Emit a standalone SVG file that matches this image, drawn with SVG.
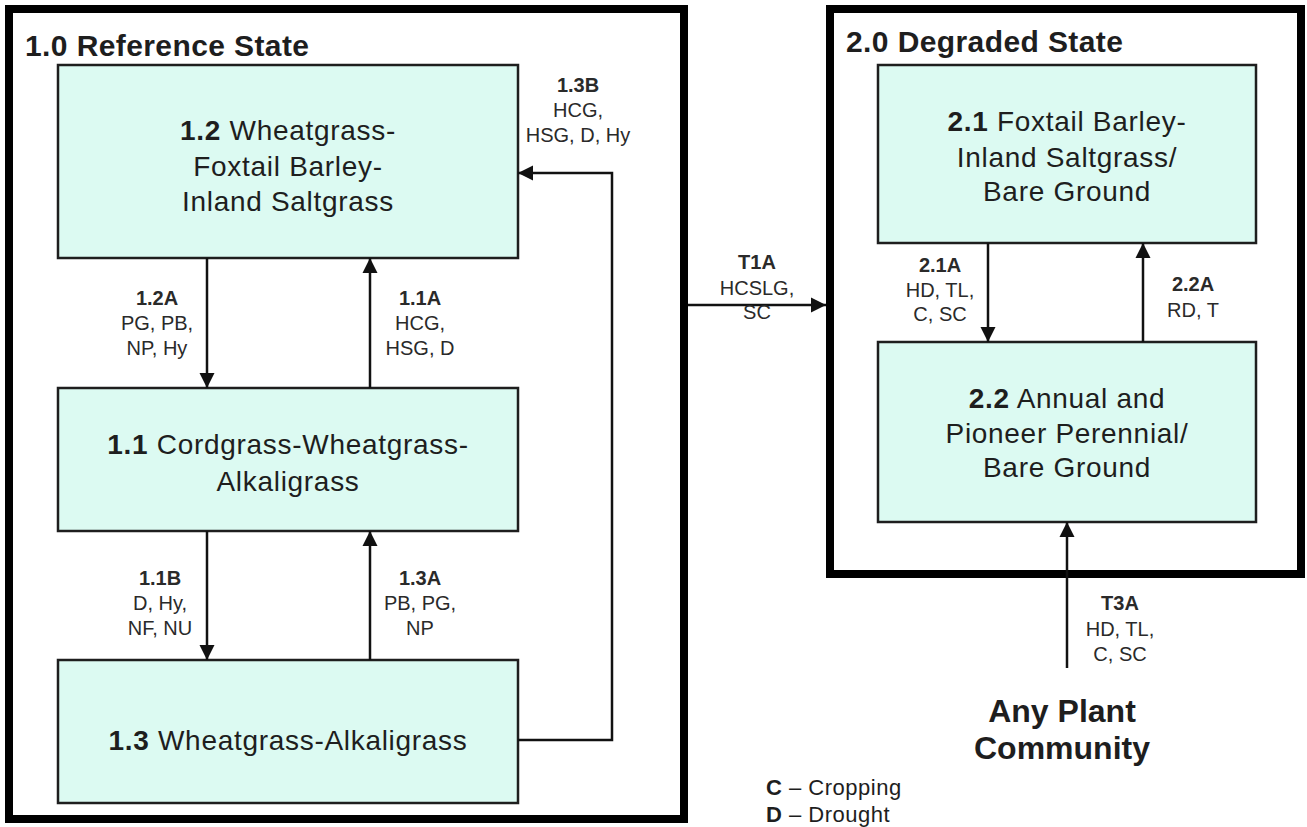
<svg xmlns="http://www.w3.org/2000/svg" width="1307" height="827" viewBox="0 0 1307 827">
<style>
text{font-family:"Liberation Sans",Arial,sans-serif;fill:#1e1e1e}
.frame{fill:none;stroke:#000;stroke-width:8}
.node{fill:#dcfaf2;stroke:#1e1e1e;stroke-width:2.5}
.nt{font-size:28px;letter-spacing:0.7px;text-anchor:middle}
.lb{font-size:20px;text-anchor:middle;fill:#2a2a2a}
.title{font-size:30px;font-weight:bold;letter-spacing:0.4px}
.conn{fill:none;stroke:#111;stroke-width:2.5}
.b{font-weight:bold}
</style>
<defs>
<marker id="ah" viewBox="0 0 10 10" refX="10" refY="5" markerWidth="6" markerHeight="6.5" orient="auto" markerUnits="strokeWidth">
<path d="M0,0 L10,5 L0,10 z" fill="#111"/>
</marker>
</defs>
<rect width="1307" height="827" fill="#fff"/>
<g id="state1">
<rect class="frame" x="9" y="9" width="675" height="810"/>
<text class="title" x="25" y="56">1.0 Reference State</text>
</g>
<g id="state2">
<rect class="frame" x="830" y="9" width="471" height="565"/>
<text class="title" x="846" y="52">2.0 Degraded State</text>
</g>
<g id="n12">
<rect class="node" x="58" y="65" width="460" height="193"/>
<text class="nt" x="288" y="140"><tspan class="b">1.2</tspan> Wheatgrass-</text>
<text class="nt" x="288" y="176">Foxtail Barley-</text>
<text class="nt" x="288" y="211">Inland Saltgrass</text>
</g>
<g id="n11">
<rect class="node" x="58" y="388" width="460" height="143"/>
<text class="nt" x="288" y="454"><tspan class="b">1.1</tspan> Cordgrass-Wheatgrass-</text>
<text class="nt" x="288" y="491">Alkaligrass</text>
</g>
<g id="n13">
<rect class="node" x="58" y="660" width="460" height="143"/>
<text class="nt" x="288" y="750"><tspan class="b">1.3</tspan> Wheatgrass-Alkaligrass</text>
</g>
<g id="n21">
<rect class="node" x="878" y="65" width="378" height="178"/>
<text class="nt" x="1067" y="131"><tspan class="b">2.1</tspan> Foxtail Barley-</text>
<text class="nt" x="1067" y="167">Inland Saltgrass/</text>
<text class="nt" x="1067" y="201">Bare Ground</text>
</g>
<g id="n22">
<rect class="node" x="878" y="342" width="378" height="180"/>
<text class="nt" x="1067" y="408"><tspan class="b">2.2</tspan> Annual and</text>
<text class="nt" x="1067" y="443">Pioneer Perennial/</text>
<text class="nt" x="1067" y="477">Bare Ground</text>
</g>
<g id="anyplant">
<text x="1062" y="722" font-size="32" font-weight="bold" text-anchor="middle">Any Plant</text>
<text x="1062" y="759" font-size="32" font-weight="bold" text-anchor="middle">Community</text>
</g>
<g id="connectors">
<path class="conn" d="M207,258 V388" marker-end="url(#ah)"/>
<path class="conn" d="M370,388 V258" marker-end="url(#ah)"/>
<path class="conn" d="M207,531 V660" marker-end="url(#ah)"/>
<path class="conn" d="M370,660 V531" marker-end="url(#ah)"/>
<path class="conn" d="M518,740 H612 V173 H518" marker-end="url(#ah)"/>
<path class="conn" d="M688,305 H826" marker-end="url(#ah)"/>
<path class="conn" d="M988,243 V342" marker-end="url(#ah)"/>
<path class="conn" d="M1143,342 V243" marker-end="url(#ah)"/>
<path class="conn" d="M1067,668 V522" marker-end="url(#ah)"/>
</g>
<g id="labels">
<text class="lb" x="578" y="92"><tspan class="b">1.3B</tspan></text>
<text class="lb" x="578" y="117">HCG,</text>
<text class="lb" x="578" y="142">HSG, D, Hy</text>
<text class="lb" x="157" y="305"><tspan class="b">1.2A</tspan></text>
<text class="lb" x="157" y="330">PG, PB,</text>
<text class="lb" x="157" y="355">NP, Hy</text>
<text class="lb" x="420" y="305"><tspan class="b">1.1A</tspan></text>
<text class="lb" x="420" y="330">HCG,</text>
<text class="lb" x="420" y="355">HSG, D</text>
<text class="lb" x="160" y="585"><tspan class="b">1.1B</tspan></text>
<text class="lb" x="160" y="610">D, Hy,</text>
<text class="lb" x="160" y="635">NF, NU</text>
<text class="lb" x="420" y="585"><tspan class="b">1.3A</tspan></text>
<text class="lb" x="420" y="610">PB, PG,</text>
<text class="lb" x="420" y="635">NP</text>
<text class="lb" x="757" y="269"><tspan class="b">T1A</tspan></text>
<text class="lb" x="757" y="295">HCSLG,</text>
<text class="lb" x="757" y="319">SC</text>
<text class="lb" x="940" y="272"><tspan class="b">2.1A</tspan></text>
<text class="lb" x="940" y="297">HD, TL,</text>
<text class="lb" x="940" y="321">C, SC</text>
<text class="lb" x="1193" y="291"><tspan class="b">2.2A</tspan></text>
<text class="lb" x="1193" y="317">RD, T</text>
<text class="lb" x="1120" y="610"><tspan class="b">T3A</tspan></text>
<text class="lb" x="1120" y="636">HD, TL,</text>
<text class="lb" x="1120" y="661">C, SC</text>
</g>
<g id="legend">
<text x="766" y="795" font-size="22" letter-spacing="0.5"><tspan class="b">C</tspan> – Cropping</text>
<text x="766" y="822" font-size="22" letter-spacing="0.5"><tspan class="b">D</tspan> – Drought</text>
</g>
</svg>
